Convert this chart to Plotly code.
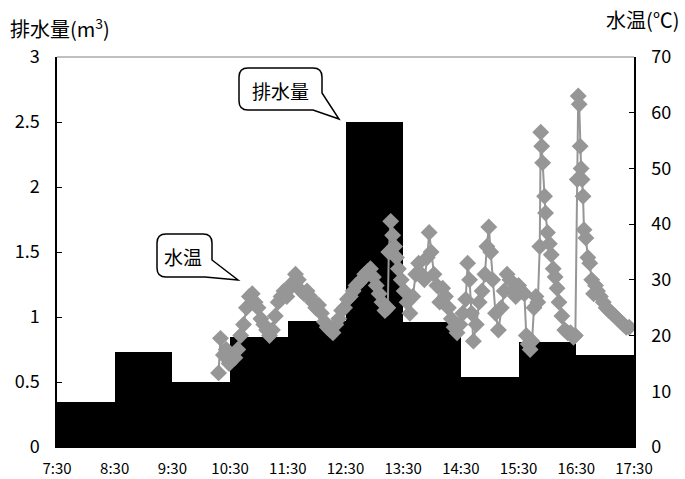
import plotly.graph_objects as go

# ---- data ----
bar_start = ["7:30", "8:30", "9:30", "10:30", "11:30", "12:30", "13:30", "14:30", "15:30", "16:30"]
discharge = [0.35, 0.73, 0.50, 0.85, 0.97, 2.50, 0.96, 0.54, 0.81, 0.71]

x_tick_labels = ["7:30", "8:30", "9:30", "10:30", "11:30", "12:30", "13:30", "14:30", "15:30", "16:30", "17:30"]

temp_times = [
    "10:18", "10:20", "10:23", "10:26", "10:29", "10:32", "10:35", "10:38", "10:41", "10:44",
    "10:47", "10:50", "10:53", "10:56", "10:59", "11:02", "11:05", "11:08", "11:11", "11:14",
    "11:17", "11:20", "11:23", "11:26", "11:29", "11:32", "11:35", "11:38", "11:41", "11:44",
    "11:47", "11:50", "11:53", "11:56", "11:59", "12:02", "12:05", "12:08", "12:11", "12:14",
    "12:17", "12:20", "12:23", "12:26", "12:29", "12:32", "12:35", "12:38", "12:41", "12:44",
    "12:47", "12:50", "12:53", "12:56", "12:59", "13:02", "13:05", "13:08", "13:11", "13:14",
    "13:15", "13:17", "13:19", "13:21", "13:23", "13:25", "13:28", "13:31", "13:34", "13:37",
    "13:40", "13:43", "13:46", "13:49", "13:52", "13:55", "13:57", "13:59", "14:02", "14:05",
    "14:08", "14:11", "14:14", "14:17", "14:20", "14:23", "14:26", "14:29", "14:32", "14:35",
    "14:37", "14:39", "14:41", "14:43", "14:46", "14:49", "14:52", "14:55", "14:57", "14:59",
    "15:01", "15:03", "15:06", "15:09", "15:12", "15:15", "15:18", "15:21", "15:24", "15:27",
    "15:30", "15:33", "15:36", "15:38", "15:40", "15:42", "15:44", "15:46", "15:48", "15:50",
    "15:52", "15:53", "15:54", "15:55", "15:57", "15:58", "16:00", "16:02", "16:04", "16:06",
    "16:08", "16:10", "16:12", "16:15", "16:18", "16:21", "16:24", "16:27", "16:29", "16:31",
    "16:32", "16:33", "16:34", "16:35", "16:36", "16:37", "16:38", "16:40", "16:42", "16:44",
    "16:46", "16:48", "16:50", "16:52", "16:55", "16:58", "17:01", "17:04", "17:07", "17:10",
    "17:13", "17:16", "17:19", "17:22", "17:25",
]
water_temp = [
    13.3, 19.5, 16.5, 17.5, 15.0, 16.0, 16.0, 17.5, 20.0, 22.0,
    25.0, 27.0, 27.5, 26.0, 25.0, 23.0, 22.0, 21.0, 20.0, 21.0,
    23.5, 26.0, 27.0, 28.0, 27.0, 28.5, 29.5, 31.0, 30.0, 28.0,
    27.5, 28.0, 27.0, 26.0, 25.0, 25.5, 24.0, 22.5, 21.5, 21.0,
    20.5, 22.0, 23.0, 24.5, 25.0, 26.5, 27.0, 28.0, 29.0, 29.5,
    30.0, 31.0, 31.5, 32.0, 30.5, 29.0, 27.5, 26.0, 24.5, 25.0,
    35.0, 40.5, 38.0, 36.0, 34.0, 32.0, 30.0, 28.0, 26.0, 24.0,
    27.0, 31.0, 33.0, 31.0, 30.0, 34.0, 38.5, 35.0, 31.0, 29.0,
    26.0, 28.5, 27.0, 25.0, 23.0, 21.5, 20.5, 22.0, 24.0, 26.5,
    33.0, 30.0, 24.0, 19.0, 22.0, 26.0, 28.0, 31.0, 36.0, 39.5,
    35.0, 30.0, 24.0, 21.0, 25.0, 28.0, 31.0, 30.0, 28.0, 27.0,
    29.0, 28.0, 27.5, 20.0, 18.5, 17.5, 19.0, 25.0, 27.0, 26.0,
    36.0, 56.5, 54.0, 51.0, 45.0, 42.0, 38.5, 36.5, 34.5, 32.0,
    30.5, 28.5, 26.0, 23.5, 21.0, 20.5, 20.5, 19.7, 20.0, 48.0,
    63.0, 61.5, 54.0, 50.0, 48.0, 45.0, 39.0, 37.5, 34.0, 33.0,
    30.0, 27.5, 29.0, 28.0, 27.0, 26.0, 25.0, 24.5, 24.0, 23.5,
    23.0, 22.5, 22.0, 21.5, 21.5,
]


def to_hours(s):
    h, m = s.split(":")
    return int(h) + int(m) / 60.0


bar_x = [to_hours(s) + 0.5 for s in bar_start]
tick_vals = [to_hours(s) for s in x_tick_labels]
temp_x = [to_hours(s) for s in temp_times]

FONT = "Noto Sans CJK JP"

fig = go.Figure()
fig.add_trace(go.Bar(
    x=bar_x, y=discharge, width=1.0,
    marker=dict(color="black", line=dict(width=0)),
    yaxis="y", showlegend=False,
))
fig.add_trace(go.Scatter(
    x=temp_x, y=water_temp, yaxis="y2", mode="lines+markers",
    line=dict(color="#969696", width=2),
    marker=dict(symbol="diamond", size=13, color="#969696"),
    showlegend=False,
))

# plot area geometry in pixels
W, H = 685, 479
L, R, T, B = 57, 51, 57, 32
PW, PH = W - L - R, H - T - B


def px(x):
    return (x - L) / PW


def py(y):
    return (H - B - y) / PH


def callout(x0, y0, x1, y1, r, tail):
    sy, tx, ty, ex = tail
    p = []
    p.append(f"M {px(x0 + r)},{py(y0)}")
    p.append(f"L {px(x1 - r)},{py(y0)}")
    p.append(f"Q {px(x1)},{py(y0)} {px(x1)},{py(y0 + r)}")
    p.append(f"L {px(x1)},{py(sy)}")
    p.append(f"L {px(tx)},{py(ty)}")
    p.append(f"L {px(ex)},{py(y1)}")
    p.append(f"L {px(x0 + r)},{py(y1)}")
    p.append(f"Q {px(x0)},{py(y1)} {px(x0)},{py(y1 - r)}")
    p.append(f"L {px(x0)},{py(y0 + r)}")
    p.append(f"Q {px(x0)},{py(y0)} {px(x0 + r)},{py(y0)}")
    p.append("Z")
    return " ".join(p)


shapes = [
    dict(type="line", xref="paper", yref="paper", x0=0, x1=1, y0=1, y1=1,
         line=dict(color="#808080", width=1)),
    dict(type="path", xref="paper", yref="paper",
         path=callout(239, 68, 322, 110, 9, (93, 339, 119, 313)),
         fillcolor="white", line=dict(color="black", width=1.5)),
    dict(type="path", xref="paper", yref="paper",
         path=callout(157, 234, 212, 277, 9, (260, 238, 280, 205)),
         fillcolor="white", line=dict(color="black", width=1.5)),
]

annotations = [
    dict(text="排水量", x=px(280), y=py(90), xref="paper", yref="paper",
         xanchor="center", yanchor="middle",
         showarrow=False, font=dict(family=FONT, size=19, color="black")),
    dict(text="水温", x=px(183), y=py(256), xref="paper", yref="paper",
         xanchor="center", yanchor="middle",
         showarrow=False, font=dict(family=FONT, size=19, color="black")),
    dict(text="排水量(m<sup>3</sup>)", x=px(8), y=py(28), xref="paper", yref="paper",
         xanchor="left", yanchor="middle",
         showarrow=False, font=dict(family=FONT, size=20, color="black")),
    dict(text="水温(℃)", x=px(682), y=py(20), xref="paper", yref="paper",
         xanchor="right", yanchor="middle",
         showarrow=False, font=dict(family=FONT, size=20, color="black")),
]

fig.update_layout(
    width=W, height=H,
    margin=dict(l=L, r=R, t=T, b=B, pad=0, autoexpand=False),
    paper_bgcolor="white", plot_bgcolor="white",
    bargap=0,
    font=dict(family=FONT, color="black"),
    xaxis=dict(
        range=[7.5, 17.5], tickvals=tick_vals, ticktext=x_tick_labels,
        showgrid=False, zeroline=False, showline=True, linecolor="black", linewidth=1,
        ticks="", tickfont=dict(size=15), ticklabelstandoff=8, automargin=False,
    ),
    yaxis=dict(
        range=[0, 3], tickvals=[0, 0.5, 1, 1.5, 2, 2.5, 3],
        ticktext=["0", "0.5", "1", "1.5", "2", "2.5", "3"],
        showgrid=False, zeroline=False, showline=True, linecolor="black", linewidth=1.5,
        ticks="inside", ticklen=5, tickcolor="black", tickfont=dict(size=18),
        ticklabelstandoff=12, automargin=False,
    ),
    yaxis2=dict(
        range=[0, 70], tickvals=[0, 10, 20, 30, 40, 50, 60, 70],
        overlaying="y", side="right",
        showgrid=False, zeroline=False, showline=True, linecolor="black", linewidth=1.5,
        ticks="inside", ticklen=5, tickcolor="black", tickfont=dict(size=18),
        ticklabelstandoff=12, automargin=False,
    ),
    shapes=shapes,
    annotations=annotations,
)

fig.write_html(
    "out.html",
    config={"displayModeBar": False},
    post_script="document.body.style.margin='0';document.body.style.overflow='hidden';",
)
